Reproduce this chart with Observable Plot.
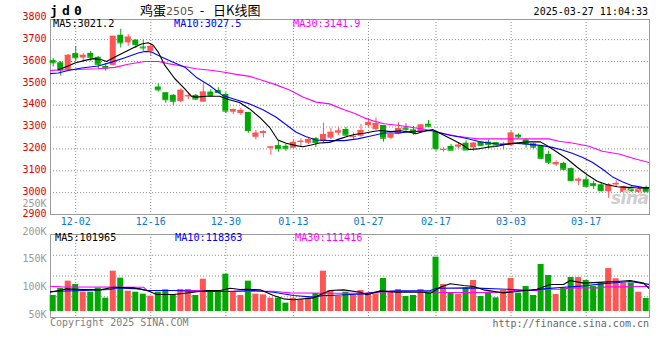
<!DOCTYPE html>
<html><head><meta charset="utf-8">
<script src="https://cdn.jsdelivr.net/npm/d3@7"></script>
<script src="https://cdn.jsdelivr.net/npm/@observablehq/plot@0.6"></script>
<style>
body{margin:0;background:#fff}
#wrap{position:relative;width:660px;height:360px;overflow:hidden;background:#fff;font-family:"DejaVu Sans Mono",monospace;font-size:10px;line-height:12px}
.t{position:absolute;white-space:pre}
#price,#vol{position:absolute;left:0}
#price{top:0}
#vol{top:190px}
#code{left:50px;top:3px;font:bold 13px/16px "DejaVu Sans Mono",monospace;letter-spacing:4.2px}
#title{left:140px;top:2px;font:13px/16px "Noto Sans CJK SC",sans-serif}
#title .n{font:11px "DejaVu Sans",sans-serif;color:#555}
#stamp{right:12px;top:6px}
.ma{font-size:10.2px}
#copy{left:50px;top:317px;color:#808080}
#url{right:11px;top:318px;color:#666}
#logo{left:611px;top:190px;font:bold italic 17px/17px "DejaVu Sans",sans-serif;color:#cfcfcf;letter-spacing:-0.5px}
#ring{position:absolute;left:627px;top:188px;width:12px;height:7px;border:1.5px solid #f4b8b8;border-radius:50%}
</style></head>
<body>
<div id="wrap">
  <div id="price"></div>
  <div id="vol"></div>
  <div class="t" id="code">jd0</div>
  <div class="t" id="title">鸡蛋<span class="n">2505</span>  -   日K线图</div>
  <div class="t" id="stamp">2025-03-27 11:04:33</div>
  <div class="t ma" style="left:53px;top:18px;color:#000">MA5:3021.2</div>
  <div class="t ma" style="left:174px;top:18px;color:#0000ff">MA10:3027.5</div>
  <div class="t ma" style="left:293px;top:18px;color:#ff00ff">MA30:3141.9</div>
  <div class="t ma" style="left:55px;top:232px;color:#000">MA5:101965</div>
  <div class="t ma" style="left:175px;top:232px;color:#0000ff">MA10:118363</div>
  <div class="t ma" style="left:295px;top:232px;color:#ff00ff">MA30:111416</div>
  <div id="ring"></div>
  <div class="t" id="logo">sina</div>
  <div class="t" id="copy">Copyright 2025 SINA.COM</div>
  <div class="t" id="url">http://finance.sina.com.cn</div>
</div>
<script>
// ---------- data ----------
const dates = ["11-27","11-28","11-29",
 "12-02","12-03","12-04","12-05","12-06","12-09","12-10","12-11","12-12","12-13","12-16","12-17","12-18","12-19","12-20","12-23","12-24","12-25","12-26","12-27","12-30","12-31",
 "01-02","01-03","01-06","01-07","01-08","01-09","01-10","01-13","01-14","01-15","01-16","01-17","01-20","01-21","01-22","01-23","01-24","01-27",
 "02-05","02-06","02-07","02-10","02-11","02-12","02-13","02-14","02-17","02-18","02-19","02-20","02-21","02-24","02-25","02-26","02-27","02-28",
 "03-03","03-04","03-05","03-06","03-07","03-10","03-11","03-12","03-13","03-14","03-17","03-18","03-19","03-20","03-21","03-24","03-25","03-26","03-27"];

const open  = [3604,3594,3562,3636,3616,3637,3619,3577,3582,3720, 3685,3697,3666,3646,3483,3457,3445,3417,3439,3445,
               3414,3460,3467,3449,3368,3362,3367,3253,3270,3203, 3215,3212,3203,3230,3226,3247,3234,3249,3272,3289,
               3253,3258,3307,3289,3307,3249,3267,3296,3287,3276, 3313,3276,3195,3211,3208,3226,3205,3232,3231,3229,
               3218,3215,3263,3241,3223,3211,3175,3127,3134,3110, 3052,3059,3041,3036,3004,3035,3001,3024,3001,3024];
const high  = [3613,3600,3632,3669,3636,3646,3623,3590,3716,3747, 3723,3701,3697,3681,3498,3457,3449,3475,3455,3449,
               3498,3471,3480,3457,3383,3386,3367,3284,3284,3209, 3235,3220,3241,3246,3253,3253,3318,3295,3299,3299,
               3273,3312,3334,3342,3307,3266,3319,3315,3302,3312, 3330,3281,3205,3220,3226,3237,3229,3234,3241,3230,
               3230,3281,3269,3246,3226,3214,3189,3146,3139,3113, 3067,3073,3052,3042,3042,3055,3030,3030,3026,3030];
const low   = [3575,3533,3560,3600,3594,3600,3562,3556,3580,3662, 3669,3659,3646,3623,3460,3409,3399,3411,3426,3422,
               3414,3437,3452,3363,3357,3354,3272,3241,3250,3171, 3185,3189,3203,3207,3220,3206,3223,3243,3261,3258,
               3241,3253,3299,3284,3231,3243,3264,3272,3263,3272, 3299,3189,3185,3194,3200,3192,3189,3215,3200,3215,
               3195,3211,3246,3203,3201,3151,3128,3119,3101,3050, 3032,3024,3015,3003,2974,3024,2993,3001,2997,3004];
const close = [3594,3562,3628,3617,3628,3619,3587,3570,3715,3685, 3711,3677,3662,3669,3470,3425,3418,3468,3443,3428,
               3460,3445,3458,3373,3380,3376,3284,3272,3279,3209, 3201,3203,3230,3235,3243,3229,3266,3276,3282,3263,
               3258,3284,3321,3316,3249,3266,3293,3290,3275,3309, 3304,3201,3198,3194,3217,3195,3226,3215,3221,3217,
               3223,3272,3255,3223,3208,3157,3139,3137,3107,3055, 3061,3029,3032,3009,3036,3042,3026,3009,3019,3004];
const volume = [84300,96900,110200,104200,90300,90300,97500,79500,128200,115600,
                92100,90300,86700,83100,90300,94500,85500,95100,95100,84300,
                113800,93300,90300,122800,90300,84300,110200,86700,85500,79500,
                79500,70500,79500,76500,79500,87900,128200,93300,82500,90300,
                84300,93300,86100,87300,115000,90300,95100,82500,84300,95100,
                90300,153500,104200,88500,86100,98100,111400,82500,90300,80100,
                93300,115000,88500,100500,84300,140300,120400,86100,98100,116800,
                116800,111400,100500,106600,133000,114400,106600,106600,90300,78900];

// moving-average lines: [trading-day position, value]
const ma5Price = [[0.67,3562],[2.0,3579],[2.89,3593],[4.22,3605],[5.33,3613],[6.44,3608],[7.11,3600],[8.22,3620],[9.55,3643],[10.88,3666],[11.77,3680],[12.66,3686],[13.32,3674],[13.99,3643],[14.88,3582],[16.21,3521],[17.54,3475],[18.43,3440],
 [19.05,3437],[20.38,3441],[22.16,3441],[23.49,3425],[24.82,3412],[26.16,3383],[27.49,3345],[28.82,3299],[29.93,3241],[31.04,3226],[32.37,3215],[33.27,3210],[34.37,3218],[35.48,3227],[36.82,3230],[38.15,3246],[39.26,3258],
 [40.1,3266],[41.43,3272],[42.77,3281],[43.66,3284],[44.99,3279],[46.32,3283],[47.66,3275],[48.32,3269],[49.43,3281],[50.54,3289],[51.65,3269],[52.98,3246],[54.32,3223],[55.42,3197],[56.53,3200],[57.86,3208],[58.98,3211],
 [60.26,3220],[61.59,3227],[62.93,3232],[64.92,3232],[65.81,3215],[67.15,3185],[68.48,3154],[69.81,3116],[71.14,3082],[72.48,3052],[73.81,3036],[75.14,3027],[76.47,3024],[77.81,3021],[79.59,3021]];
const ma10Price = [[-0.67,3544],[0.67,3547],[2.0,3559],[3.78,3570],[6.0,3579],[7.77,3597],[9.55,3617],[11.32,3639],[12.21,3646],[13.1,3643],[14.43,3620],[15.76,3600],[17.54,3574],
 [19.05,3528],[20.83,3490],[22.6,3444],[24.38,3425],[26.16,3406],[27.94,3379],[29.71,3345],[31.49,3299],[32.37,3276],[33.71,3256],[35.04,3241],[36.82,3238],[38.77,3238],
 [40.55,3246],[42.32,3259],[44.1,3273],[45.87,3273],[47.66,3279],[48.99,3281],[50.32,3284],[51.65,3273],[52.98,3261],[54.32,3253],[55.65,3243],[56.98,3232],[58.31,3226],
 [59.82,3220],[61.15,3226],[62.93,3223],[65.15,3215],[66.48,3207],[67.81,3195],[69.14,3180],[70.48,3162],[71.81,3139],[73.15,3108],[74.47,3073],[75.81,3050],[77.14,3032],[78.48,3024],[79.59,3021]];
const ma30Price = [[-0.67,3559],[2.0,3562],[6.0,3567],[8.22,3573],[9.99,3587],[12.21,3600],[13.99,3600],[15.32,3590],[17.1,3579],[19.05,3567],
 [21.27,3559],[22.83,3551],[24.38,3541],[26.16,3532],[27.94,3513],[29.71,3493],[31.49,3470],[33.27,3437],[35.04,3414],[36.82,3406],[38.77,3379],
 [40.1,3363],[41.43,3342],[42.77,3327],[44.1,3315],[45.87,3308],[47.66,3299],[49.43,3290],[50.76,3281],[52.09,3269],[53.87,3258],[55.65,3250],[56.53,3246],[58.98,3246],
 [66.04,3246],[67.37,3235],[69.14,3227],[71.37,3212],[73.15,3189],[75.37,3177],[77.59,3154],[79.59,3136]];

const ma5Vol = [[-0.4,90300],[1.82,96300],[4.04,95100],[6.26,94500],[8.04,99300],[10.7,98100],[12.48,93300],[13.81,86100],[16.03,86100],[18.69,90300],[20.47,93300],[22.25,93300],[23.58,97500],[24.91,95100],[25.8,95700],[27.58,94500],[29.35,84300],[30.68,78300],[32.02,76500],[34.68,80100],[36.01,88500],
 [36.9,93300],[38.68,94500],[40.9,90300],[41.79,85500],[43.56,92700],[45.79,90300],[49.33,90300],[50.23,87900],[51.56,99300],[52.89,105400],[54.66,102300],[56,100500],[57.33,94500],[59.99,89100],[61.77,91500],[64.44,95700],[66.21,104200],[67.99,104200],[68.88,111400],[70.65,106600],[73.31,108400],[75.1,109600],[76.87,111400],[78.64,106600],[79.44,96300]];
const ma10Vol = [[-0.4,91500],[4.04,93300],[7.59,95100],[8.48,98100],[11.59,96300],[12.48,93300],[16.03,93300],[19.58,91500],[24.02,92100],[26.69,93300],[29.35,90300],[32.02,84300],[34.68,81300],[36.01,84300],
 [36.9,84300],[39.57,86100],[41.34,87300],[43.56,91500],[45.79,92700],[50.23,93300],[51.12,97500],[55.56,98100],[60.44,95700],[63.55,93300],[65.32,96300],[67.99,99300],[70.65,101700],[73.31,105400],[76.87,109600],[79.44,104200]];
const ma30Vol = [[-0.4,101100],[1.15,99900],[12.03,99300],[12.48,93900],[13.81,93300],[19.58,93300],[20.47,92100],[29.35,92100],[30.68,90300],[31.57,89100],[36.9,88500],
 [41.34,88500],[43.56,90300],[45.79,91500],[50.23,91500],[51.56,89700],[57.33,89700],[59.99,90300],[61.32,93300],[64.44,93300],[65.32,95700],[67.99,95700],[68.88,98100],[72.43,98100],[73.76,99900],[76.87,99900],[77.76,100500],[79.44,100500]];

const tickDates = ["12-02","12-16","12-30","01-13","01-27","02-17","03-03","03-17"];
const priceTicks = [2900,3000,3100,3200,3300,3400,3500,3600,3700,3800];
const priceGrid = [3000,3100,3200,3300,3400,3500,3600,3700];
const volTicks = [50000,100000,150000,200000,250000];
const volTickLabels = ["50K","100K","150K","200K","250K"];
const VOL_FLOOR = 55400;

// ---------- styles ----------
const RED = "#ff5555", GREEN = "#00a800", GRID = "#8c8c8c", FRAME = "#9a9a9a";
const X_DOMAIN = [-0.36, 79.44];
const PRICE_DOMAIN = [2900, 3792];
const VOL_DOMAIN = [44600, 194400];

const bars = dates.map((d, i) => ({i, d, o: open[i], h: high[i], l: low[i], c: close[i], v: volume[i]}));
const col = d => d.c >= d.o ? RED : GREEN;
const tickIdx = tickDates.map(t => dates.indexOf(t));
const dash = {stroke: GRID, strokeOpacity: 1, strokeDasharray: "1,2"};
const baseStyle = {background: "transparent", fontFamily: "DejaVu Sans Mono, monospace", fontSize: "10px", overflow: "visible"};

const price = Plot.plot({
  width: 660, height: 230, marginTop: 19, marginBottom: 16, marginLeft: 50, marginRight: 11,
  style: baseStyle,
  x: {type: "linear", domain: X_DOMAIN, label: null, axis: null},
  y: {domain: PRICE_DOMAIN, label: null, axis: null},
  color: {type: "identity"},
  marks: [
    Plot.gridY(priceGrid, dash),
    Plot.gridX(tickIdx, dash),
    Plot.frame({stroke: FRAME}),
    Plot.axisY(priceTicks, {label: null, tickSize: 0, tickPadding: 4, dy: -1, tickFormat: d => String(d), fill: "#e00000", color: "#e00000"}),
    Plot.axisX(tickIdx, {label: null, tickSize: 0, tickPadding: 3, tickFormat: i => dates[i], fill: "#0a78c8", color: "#0a78c8"}),
    Plot.ruleX(bars, {x: "i", y1: "l", y2: "h", stroke: col}),
    Plot.rect(bars, {x1: d => d.i - 0.5, x2: d => d.i + 0.5, insetLeft: 0.75, insetRight: 0.75, y1: "o", y2: "c", fill: col}),
    Plot.ruleY(bars, {y: "c", x1: d => d.i - 0.4, x2: d => d.i + 0.4, stroke: col}),
    Plot.line(ma30Price, {x: d => d[0], y: d => d[1], stroke: "#ff00ff", strokeWidth: 1.1, clip: true}),
    Plot.line(ma10Price, {x: d => d[0], y: d => d[1], stroke: "#0000ff", strokeWidth: 1.1, clip: true}),
    Plot.line(ma5Price, {x: d => d[0], y: d => d[1], stroke: "#000", strokeWidth: 1.1, clip: true})
  ]
});
document.getElementById("price").append(price);

const vq = d3.range(1, 4).map(k => VOL_DOMAIN[0] + k * (VOL_DOMAIN[1] - VOL_DOMAIN[0]) / 4);
const vol = Plot.plot({
  width: 660, height: 135, marginTop: 44, marginBottom: 8, marginLeft: 50, marginRight: 11,
  style: baseStyle,
  x: {type: "linear", domain: X_DOMAIN, label: null, axis: null},
  y: {domain: VOL_DOMAIN, label: null, axis: null},
  color: {type: "identity"},
  marks: [
    Plot.gridY(vq, dash),
    Plot.gridX(tickIdx, dash),
    Plot.frame({stroke: FRAME}),
    Plot.axisY(volTicks, {label: null, tickSize: 0, tickPadding: 4, tickFormat: v => volTickLabels[volTicks.indexOf(v)], fill: "#999", color: "#999"}),
    Plot.rect(bars, {x1: d => d.i - 0.5, x2: d => d.i + 0.5, insetLeft: 0.75, insetRight: 0.75, y1: VOL_FLOOR, y2: "v", fill: col}),
    Plot.line(ma30Vol, {x: d => d[0], y: d => d[1], stroke: "#ff00ff", strokeWidth: 1.1, clip: true}),
    Plot.line(ma10Vol, {x: d => d[0], y: d => d[1], stroke: "#0000ff", strokeWidth: 1.1, clip: true}),
    Plot.line(ma5Vol, {x: d => d[0], y: d => d[1], stroke: "#000", strokeWidth: 1.1, clip: true})
  ]
});
document.getElementById("vol").append(vol);
</script>
</body></html>
